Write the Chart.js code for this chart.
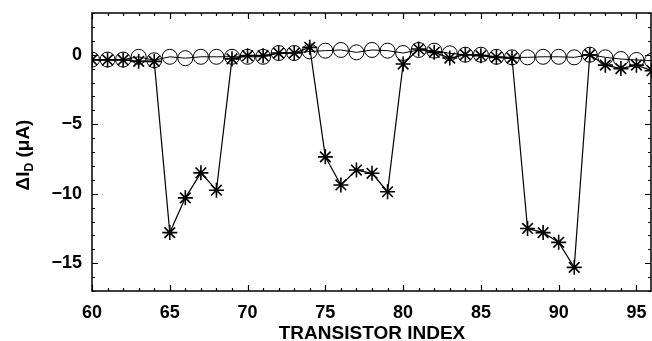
<!DOCTYPE html>
<html>
<head>
<meta charset="utf-8">
<script src="https://cdn.jsdelivr.net/npm/chart.js@4/dist/chart.umd.min.js"></script>
<style>
  html, body { margin: 0; padding: 0; background: #fff; }
  canvas { display: block; }
</style>
</head>
<body>
<canvas id="idChart" width="652" height="341"></canvas>
<script>
const transistorIndex = [60, 61, 62, 63, 64, 65, 66, 67, 68, 69, 70, 71, 72, 73, 74, 75, 76, 77, 78,
    79, 80, 81, 82, 83, 84, 85, 86, 87, 88, 89, 90, 91, 92, 93, 94, 95, 96];

// open circles (stay around zero)
const circleValues = [-0.35, -0.35, -0.35, -0.15, -0.4, -0.15, -0.25, -0.15, -0.15, -0.15, -0.15, -0.15,
    0.12, 0.12, 0.24, 0.29, 0.34, 0.17, 0.34, 0.29, 0.12, 0.34, 0.29, 0.1, 0, 0, -0.15, -0.19, -0.19,
    -0.15, -0.15, -0.19, 0, -0.19, -0.31, -0.38, -0.43];

// asterisks (the ones with the dips)
const starValues = [-0.38, -0.38, -0.38, -0.48, -0.48, -12.8, -10.3, -8.5, -9.75, -0.3, -0.07, -0.07,
    0.12, 0.12, 0.53, -7.35, -9.37, -8.3, -8.53, -9.86, -0.67, 0.41, 0.17, -0.24, 0, -0.07, -0.19,
    -0.24, -12.5, -12.8, -13.5, -15.3, 0, -0.75, -1.0, -0.75, -1.15];

const xRange = [60, 96];
const yRange = [-17, 3];
const xTickValues = [60, 65, 70, 75, 80, 85, 90, 95];
const yTickValues = [-15, -10, -5, 0];
const xTitle = "TRANSISTOR INDEX";

const FONT = "'Liberation Sans', Arial, sans-serif";

function toPoints(values) {
    return transistorIndex.map((x, i) => ({ x: x, y: values[i] }));
}

function fmtTick(v) {
    return v < 0 ? "\u2212" + Math.abs(v) : String(v);
}

// inward ticks, box frame and axis titles
const framePlugin = {
    id: "frame",
    afterDraw(chart) {
        const ctx = chart.ctx;
        const a = chart.chartArea;
        const xs = chart.scales.x;
        const ys = chart.scales.y;
        ctx.save();
        ctx.strokeStyle = "#000";
        ctx.lineWidth = 1.5;
        ctx.strokeRect(a.left, a.top, a.right - a.left - 1, a.bottom - a.top);

        ctx.lineWidth = 1.2;
        ctx.beginPath();
        for (let v = xRange[0]; v <= xRange[1]; v++) {
            const px = Math.round(xs.getPixelForValue(v)) + 0.5;
            const len = v % 5 === 0 ? 6 : 3;
            ctx.moveTo(px, a.bottom); ctx.lineTo(px, a.bottom - len);
            ctx.moveTo(px, a.top); ctx.lineTo(px, a.top + len);
        }
        for (let v = yRange[0]; v <= yRange[1]; v++) {
            const py = Math.round(ys.getPixelForValue(v)) + 0.5;
            const len = v % 5 === 0 ? 6 : 3;
            ctx.moveTo(a.left, py); ctx.lineTo(a.left + len, py);
            ctx.moveTo(a.right - 1, py); ctx.lineTo(a.right - 1 - len, py);
        }
        ctx.stroke();

        // x title
        ctx.fillStyle = "#000";
        ctx.font = "bold 19px " + FONT;
        ctx.textAlign = "center";
        ctx.textBaseline = "middle";
        ctx.fillText(xTitle, (a.left + a.right) / 2, 334);

        // y title with subscript
        ctx.translate(24, 155);
        ctx.rotate(-Math.PI / 2);
        const big = "bold 19px " + FONT;
        const small = "bold 12px " + FONT;
        ctx.font = big;
        const w1 = ctx.measureText("\u0394I").width;
        const w3 = ctx.measureText(" (\u03bcA)").width;
        ctx.font = small;
        const w2 = ctx.measureText("D").width;
        let x0 = -(w1 + w2 + w3) / 2;
        ctx.textAlign = "left";
        ctx.font = big;
        ctx.fillText("\u0394I", x0, 0);
        ctx.font = small;
        ctx.fillText("D", x0 + w1, 6);
        ctx.font = big;
        ctx.fillText(" (\u03bcA)", x0 + w1 + w2, 0);
        ctx.restore();
    }
};

new Chart(document.getElementById("idChart"), {
    type: "line",
    data: {
        datasets: [
            {
                label: "circles",
                data: toPoints(circleValues),
                borderColor: "#000",
                borderWidth: 1,
                pointStyle: "circle",
                pointRadius: 7.5,
                pointBorderWidth: 1,
                pointBackgroundColor: "rgba(0,0,0,0)",
                pointBorderColor: "#000"
            },
            {
                label: "stars",
                data: toPoints(starValues),
                borderColor: "#000",
                borderWidth: 1.2,
                pointStyle: "star",
                pointRadius: 7.5,
                pointBorderWidth: 1.6,
                pointBorderColor: "#000"
            }
        ]
    },
    options: {
        responsive: false,
        animation: false,
        layout: { autoPadding: false, padding: { top: 13, right: 0, left: 0, bottom: 0 } },
        plugins: { legend: { display: false }, tooltip: { enabled: false } },
        scales: {
            x: {
                type: "linear",
                min: xRange[0],
                max: xRange[1],
                afterFit(scale) {
                    scale.height = 50;
                    scale.paddingLeft = 0;
                    scale.paddingRight = 0;
                },
                afterBuildTicks(scale) {
                    scale.ticks = xTickValues.map(v => ({ value: v }));
                },
                grid: { display: false, drawTicks: false },
                border: { display: false },
                ticks: {
                    padding: 11,
                    maxRotation: 0,
                    autoSkip: false,
                    color: "#000",
                    font: { family: FONT, size: 18, weight: "bold" },
                    callback: fmtTick
                }
            },
            y: {
                min: yRange[0],
                max: yRange[1],
                afterFit(scale) {
                    scale.width = 92;
                    scale.paddingTop = 0;
                    scale.paddingBottom = 0;
                },
                afterBuildTicks(scale) {
                    scale.ticks = yTickValues.map(v => ({ value: v }));
                },
                grid: { display: false, drawTicks: false },
                border: { display: false },
                ticks: {
                    padding: 10,
                    autoSkip: false,
                    color: "#000",
                    font: { family: FONT, size: 18, weight: "bold" },
                    callback: fmtTick
                }
            }
        }
    },
    plugins: [framePlugin]
});
</script>
</body>
</html>
